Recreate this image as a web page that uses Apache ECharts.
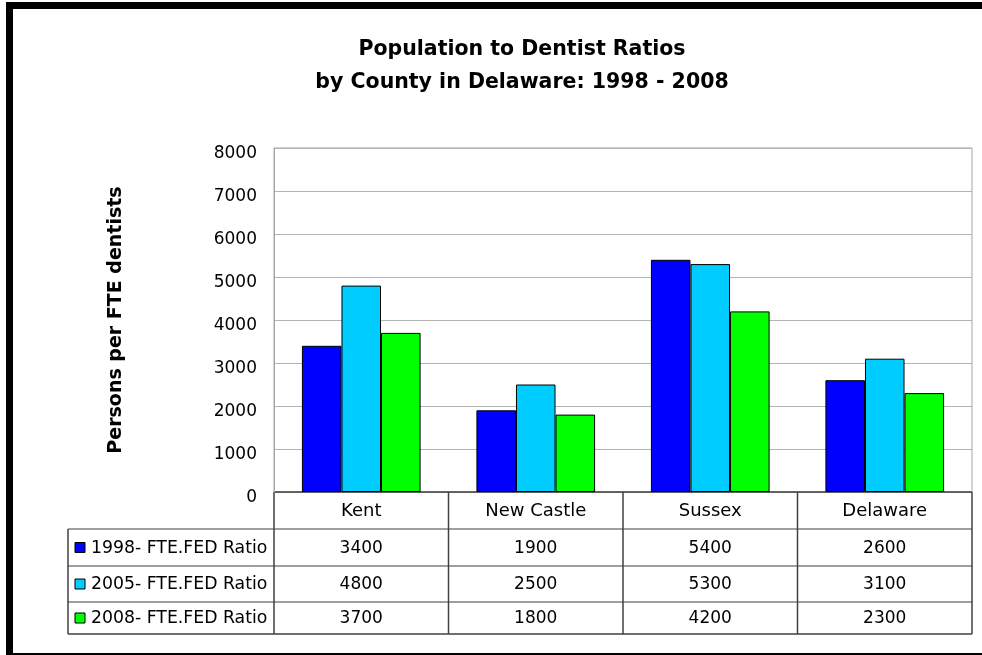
<!DOCTYPE html>
<html>
<head>
<meta charset="utf-8">
<script src="https://cdn.jsdelivr.net/npm/echarts@6/dist/echarts.min.js"></script>
<style>
html,body{margin:0;padding:0;background:#fff;}
#chart{width:982px;height:655px;}
</style>
</head>
<body>
<div id="chart"></div>
<script>
const categories = ['Kent', 'New Castle', 'Sussex', 'Delaware'];
const seriesNames = ['1998- FTE.FED Ratio', '2005- FTE.FED Ratio', '2008- FTE.FED Ratio'];
const values1998 = [3400, 1900, 5400, 2600];
const values2005 = [4800, 2500, 5300, 3100];
const values2008 = [3700, 1800, 4200, 2300];
const yTicks = [0, 1000, 2000, 3000, 4000, 5000, 6000, 7000, 8000];
const titleLines = ['Population to Dentist Ratios', 'by County in Delaware: 1998 - 2008'];
const yAxisTitle = 'Persons per FTE dentists';

const seriesValues = [values1998, values2005, values2008];
const colors = ['#0000FF', '#00CCFF', '#00FF00'];
const FONT = 'DejaVu Sans';

const chart = echarts.init(document.getElementById('chart'), null, {renderer: 'canvas'});

const option = {
  animation: false,
  backgroundColor: '#fff',
  title: {
    text: titleLines.join('\n'),
    left: 517, top: 28, textAlign: 'center',
    textStyle: {fontFamily: FONT, fontWeight: 'bold', fontSize: 20.5, lineHeight: 33, color: '#000'}
  },
  grid: {left: 274, right: 10, top: 148, bottom: 163, show: true, borderColor: '#a6a6a6', borderWidth: 1, containLabel: false},
  xAxis: {
    type: 'category', data: categories,
    axisLine: {show: false}, axisTick: {show: false}, axisLabel: {show: false}, splitLine: {show: false}
  },
  yAxis: {
    type: 'value', min: yTicks[0], max: yTicks[yTicks.length - 1], interval: yTicks[1] - yTicks[0],
    name: yAxisTitle, nameLocation: 'middle', nameGap: 148, nameRotate: 90,
    nameTextStyle: {fontFamily: FONT, fontWeight: 'bold', fontSize: 19, color: '#000'},
    axisLine: {show: true, lineStyle: {color: '#a6a6a6'}}, axisTick: {show: false},
    axisLabel: {color: '#000', margin: 17,
      formatter: v => '{a|' + v + '}',
      rich: {a: {fontFamily: FONT, fontSize: 17, color: '#000', padding: [11, 0, 0, 0]}}},
    splitLine: {show: true, lineStyle: {color: '#b4b4b4', width: 1}}
  },
  series: seriesNames.map((n, i) => ({
    name: n, type: 'bar', data: seriesValues[i],
    barGap: '0%', barCategoryGap: '32%',
    itemStyle: {color: colors[i], borderColor: '#000', borderWidth: 1}
  }))
};
chart.setOption(option);

// Data table below the plot, positioned from the axis scales
const centers = categories.map((c, i) => chart.convertToPixel({xAxisIndex: 0}, i));
const band = centers.length > 1 ? centers[1] - centers[0] : 174;
const colLeft = centers.map(c => c - band / 2);
const right = centers[centers.length - 1] + band / 2;
const y0 = chart.convertToPixel({yAxisIndex: 0}, 0);
const rowH = [37, 37, 36, 32];
const rowY = [y0];
rowH.forEach(h => rowY.push(rowY[rowY.length - 1] + h));
const tableLeft = 68;
const g = [];
const darkLine = {stroke: '#404040', lineWidth: 1.5};
const greyLine = {stroke: '#7f7f7f', lineWidth: 1.5};
g.push({type: 'line', shape: {x1: colLeft[0], y1: rowY[0], x2: right, y2: rowY[0]}, style: darkLine});
for (let r = 1; r < rowY.length; r++) {
  g.push({type: 'line', shape: {x1: tableLeft, y1: rowY[r], x2: right, y2: rowY[r]}, style: r === rowY.length - 1 ? darkLine : greyLine});
}
g.push({type: 'line', shape: {x1: tableLeft, y1: rowY[1], x2: tableLeft, y2: rowY[rowY.length - 1]}, style: darkLine});
colLeft.forEach(x => g.push({type: 'line', shape: {x1: x, y1: rowY[0], x2: x, y2: rowY[rowY.length - 1]}, style: darkLine}));
g.push({type: 'line', shape: {x1: right, y1: rowY[0], x2: right, y2: rowY[rowY.length - 1]}, style: darkLine});
categories.forEach((c, i) => g.push({type: 'text', x: centers[i], y: (rowY[0] + rowY[1]) / 2 + 1,
  style: {text: c, font: '18px "' + FONT + '"', fill: '#000', align: 'center', verticalAlign: 'middle'}}));
seriesNames.forEach((n, s) => {
  const cy = (rowY[s + 1] + rowY[s + 2]) / 2 + 1;
  g.push({type: 'rect', shape: {x: 75, y: cy - 6, width: 10, height: 10}, style: {fill: colors[s], stroke: '#000', lineWidth: 1}});
  g.push({type: 'text', x: 91, y: cy, style: {text: n, font: '17.3px "' + FONT + '"', fill: '#000', align: 'left', verticalAlign: 'middle'}});
  seriesValues[s].forEach((v, i) => g.push({type: 'text', x: centers[i], y: cy,
    style: {text: String(v), font: '17px "' + FONT + '"', fill: '#000', align: 'center', verticalAlign: 'middle'}}));
});
g.push({type: 'rect', shape: {x: 6, y: 2, width: 976, height: 7}, style: {fill: '#000'}});
g.push({type: 'rect', shape: {x: 6, y: 2, width: 7, height: 653}, style: {fill: '#000'}});
g.push({type: 'rect', shape: {x: 6, y: 653, width: 976, height: 2}, style: {fill: '#000'}});
chart.setOption({graphic: {elements: g}});
</script>
</body>
</html>
